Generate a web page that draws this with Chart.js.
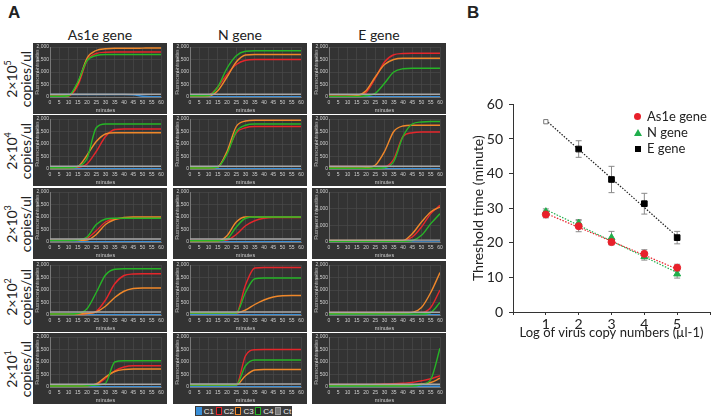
<!DOCTYPE html>
<html>
<head>
<meta charset="utf-8">
<script src="https://cdn.jsdelivr.net/npm/chart.js@4.4.1/dist/chart.umd.min.js"></script>
<style>
  html, body { margin: 0; padding: 0; background: #fff; }
  body { width: 715px; height: 420px; position: relative; overflow: hidden; font-family: Lato, "Open Sans", sans-serif; color: #222; }
  .abs { position: absolute; }
  .panel-label { font-weight: bold; font-size: 17px; font-family: "Liberation Sans", Arial, sans-serif; }
  .col-title { font-size: 14px; text-align: center; width: 134px; top: 26px; }
  .row-title { width: 72px; height: 28px; text-align: center; font-size: 14px; line-height: 14px; white-space: nowrap; transform: rotate(-90deg); transform-origin: center center; }
  .row-title sup { font-size: 9px; line-height: 0; }
  canvas.mini { position: absolute; background: #333; }
  #qlegend { left: 195px; top: 406px; width: 97px; height: 10px; background: #3b3b3b; display: flex; align-items: center; justify-content: space-around; font: 8px "Liberation Sans", Arial, sans-serif; color: #eee; }
  #qlegend span.box { display: inline-block; width: 4px; height: 6px; border: 1.5px solid; margin-right: 2px; vertical-align: middle; background: #222; }
  #blegend { left: 632px; top: 108px; font-size: 13px; line-height: 16px; }
  #blegend div { position: relative; padding-left: 15px; }
  #blegend i { position: absolute; left: 2px; top: 5px; }
</style>
</head>
<body>
<div class="abs panel-label" style="left:8px; top:3px;">A</div>
<div class="abs panel-label" style="left:467px; top:3px;">B</div>

<div class="abs col-title" style="left:33px;">As1e gene</div>
<div class="abs col-title" style="left:173px;">N gene</div>
<div class="abs col-title" style="left:312px;">E gene</div>

<div id="rowTitles"></div>
<div id="minis"></div>

<div id="qlegend" class="abs">
  <span><span class="box" style="border-color:#3a8fd8;background:#3a8fd8"></span>C1</span>
  <span><span class="box" style="border-color:#e5262b"></span>C2</span>
  <span><span class="box" style="border-color:#f0882a"></span>C3</span>
  <span><span class="box" style="border-color:#26b526"></span>C4</span>
  <span><span class="box" style="border-color:#9a9a9a;background:#777"></span>Ct</span>
</div>

<canvas id="chartB" class="abs" width="250" height="255" style="left:465px; top:90px;"></canvas>
<div id="blegend" class="abs">
  <div><i style="width:7px;height:7px;border-radius:50%;background:#e8202a;"></i>As1e gene</div>
  <div><i style="width:0;height:0;border-left:4px solid transparent;border-right:4px solid transparent;border-bottom:7px solid #1fae4b;"></i>N gene</div>
  <div><i style="width:6px;height:6px;background:#000;top:6px;left:3px;"></i>E gene</div>
</div>

<script>
// ---- panel A: amplification curves (minutes vs fluorescence) ----
const MINUTES = [0, 5, 10, 15, 20, 25, 30, 35, 40, 45, 50, 55, 60];
const CURVE_NAMES = ['C1', 'C2', 'C3', 'C4', 'Ct'];
const CURVE_COLORS = ['#3a8fd8', '#e5262b', '#f0882a', '#26b526', '#a8a8a8'];
const ROW_LABELS = ['5', '4', '3', '2', '1'];

// each chart: [C1, C2, C3, C4, Ct]
const AS1E_R1 = [
  [100, 100, 100, 100, 100, 100, 100, 100, 100, 90, 30, 10, 10],
  [30, 30, 40, 450, 1450, 1740, 1790, 1800, 1800, 1800, 1800, 1800, 1800],
  [30, 30, 50, 550, 1550, 1860, 1930, 1950, 1950, 1950, 1955, 1960, 1960],
  [30, 30, 50, 600, 1450, 1660, 1700, 1700, 1700, 1700, 1700, 1700, 1700],
  [110, 110, 110, 110, 110, 110, 110, 110, 110, 110, 110, 110, 110],
];
const AS1E_R2 = [
  [10, 10, 10, 10, 10, 10, 10, 10, 10, 10, 10, 10, 10],
  [60, 60, 60, 70, 200, 700, 1300, 1580, 1600, 1600, 1600, 1600, 1600],
  [50, 50, 50, 100, 550, 1100, 1400, 1450, 1450, 1450, 1450, 1450, 1450],
  [50, 50, 50, 100, 420, 1650, 1800, 1800, 1800, 1800, 1800, 1800, 1800],
  [110, 110, 110, 110, 110, 110, 110, 110, 110, 110, 110, 110, 110],
];
const AS1E_R3 = [
  [10, 10, 10, 10, 10, 10, 10, 10, 10, 10, 10, 10, 10],
  [60, 60, 60, 60, 150, 450, 800, 930, 950, 950, 950, 950, 950],
  [60, 60, 60, 70, 80, 300, 700, 900, 980, 1000, 1000, 1000, 1000],
  [60, 60, 60, 80, 200, 700, 920, 950, 950, 950, 950, 950, 950],
  [120, 120, 120, 120, 120, 120, 120, 120, 120, 120, 120, 120, 120],
];
const AS1E_R4 = [
  [10, 10, 10, 10, 10, 10, 10, 10, 10, 10, 10, 10, 10],
  [40, 40, 40, 40, 60, 150, 600, 1250, 1580, 1640, 1650, 1650, 1650],
  [40, 40, 40, 40, 60, 120, 350, 700, 950, 1060, 1080, 1080, 1080],
  [40, 40, 40, 60, 250, 900, 1600, 1830, 1850, 1850, 1850, 1850, 1850],
  [120, 120, 120, 120, 120, 120, 120, 120, 120, 120, 120, 120, 120],
];
const AS1E_R5 = [
  [10, 10, 10, 10, 10, 10, 10, 10, 10, 10, 10, 10, 10],
  [40, 40, 40, 40, 50, 100, 350, 650, 800, 850, 850, 850, 850],
  [40, 40, 40, 40, 50, 120, 400, 620, 700, 720, 720, 720, 720],
  [40, 40, 40, 40, 50, 80, 150, 1000, 1050, 1050, 1050, 1050, 1050],
  [110, 110, 110, 110, 110, 110, 110, 110, 110, 110, 110, 110, 110],
];

const N_R1 = [
  [10, 10, 10, 10, 10, 10, 10, 10, 10, 10, 10, 10, 10],
  [60, 60, 80, 400, 900, 1300, 1470, 1500, 1500, 1500, 1500, 1500, 1500],
  [40, 40, 40, 250, 800, 1400, 1680, 1700, 1700, 1700, 1700, 1700, 1700],
  [50, 50, 60, 400, 1150, 1650, 1830, 1850, 1850, 1850, 1850, 1850, 1850],
  [110, 110, 110, 110, 110, 110, 110, 110, 110, 110, 110, 110, 110],
];
const N_R2 = [
  [10, 10, 10, 10, 10, 10, 10, 10, 10, 10, 10, 10, 10],
  [40, 40, 40, 80, 650, 1450, 1650, 1700, 1700, 1700, 1700, 1700, 1700],
  [40, 40, 40, 80, 700, 1700, 1920, 1950, 1950, 1950, 1950, 1950, 1950],
  [40, 40, 40, 80, 600, 1500, 1750, 1800, 1800, 1800, 1800, 1800, 1800],
  [110, 110, 110, 110, 110, 110, 110, 110, 110, 110, 110, 110, 110],
];
const N_R3 = [
  [10, 10, 10, 10, 10, 10, 10, 10, 10, 10, 10, 10, 10],
  [60, 60, 60, 60, 80, 300, 650, 850, 950, 980, 980, 980, 980],
  [40, 40, 40, 40, 250, 800, 1000, 1000, 1000, 1000, 1000, 1000, 1000],
  [50, 50, 50, 50, 120, 600, 950, 1000, 1000, 1000, 1000, 1000, 1000],
  [120, 120, 120, 120, 120, 120, 120, 120, 120, 120, 120, 120, 120],
];
const N_R4 = [
  [10, 10, 10, 10, 10, 10, 10, 10, 10, 10, 10, 10, 10],
  [80, 80, 80, 80, 80, 80, 1200, 1880, 1900, 1900, 1900, 1900, 1900],
  [80, 80, 80, 80, 80, 80, 200, 420, 600, 720, 770, 780, 780],
  [80, 80, 80, 80, 80, 80, 900, 1450, 1480, 1480, 1480, 1480, 1480],
  [120, 120, 120, 120, 120, 120, 120, 120, 120, 120, 120, 120, 120],
];
const N_R5 = [
  [10, 10, 10, 10, 10, 10, 10, 10, 10, 10, 10, 10, 10],
  [80, 80, 80, 80, 80, 80, 1250, 1490, 1500, 1500, 1500, 1500, 1500],
  [80, 80, 80, 80, 80, 80, 450, 680, 700, 700, 700, 700, 700],
  [80, 80, 80, 80, 80, 80, 850, 1080, 1080, 1080, 1080, 1080, 1080],
  [120, 120, 120, 120, 120, 120, 120, 120, 120, 120, 120, 120, 120],
];

const E_R1 = [
  [10, 10, 10, 10, 10, 10, 10, 10, 10, 10, 10, 10, 10],
  [30, 30, 30, 40, 180, 750, 1400, 1690, 1740, 1750, 1750, 1750, 1750],
  [30, 30, 30, 50, 250, 800, 1300, 1500, 1550, 1550, 1550, 1550, 1550],
  [20, 20, 20, 20, 50, 150, 550, 1000, 1130, 1150, 1150, 1150, 1150],
  [110, 110, 110, 110, 110, 110, 110, 110, 110, 110, 110, 110, 110],
];
const E_R2 = [
  [10, 10, 10, 10, 10, 10, 10, 10, 10, 10, 10, 10, 10],
  [100, 100, 100, 100, 100, 100, 100, 400, 1300, 1450, 1480, 1480, 1480],
  [40, 40, 40, 40, 50, 150, 700, 1500, 1720, 1750, 1750, 1750, 1750],
  [30, 30, 30, 30, 30, 30, 50, 300, 1300, 1800, 1880, 1900, 1900],
  [110, 110, 110, 110, 110, 110, 110, 110, 110, 110, 110, 110, 110],
];
const E_R3 = [
  [10, 10, 10, 10, 10, 10, 10, 10, 10, 10, 10, 10, 10],
  [60, 60, 60, 60, 60, 60, 60, 60, 80, 300, 900, 1700, 2200],
  [100, 100, 100, 100, 100, 100, 100, 100, 100, 500, 1200, 1800, 2100],
  [40, 40, 40, 40, 40, 40, 40, 40, 40, 80, 400, 1100, 1700],
  [110, 110, 110, 110, 110, 110, 110, 110, 110, 110, 110, 110, 110],
];
const E_R4 = [
  [10, 10, 10, 10, 10, 10, 10, 10, 10, 10, 10, 10, 10],
  [100, 100, 100, 100, 100, 100, 100, 100, 100, 100, 100, 300, 1000],
  [60, 60, 60, 60, 60, 60, 60, 60, 60, 100, 300, 900, 1700],
  [40, 40, 40, 40, 40, 40, 40, 40, 40, 40, 40, 100, 500],
  [110, 110, 110, 110, 110, 110, 110, 110, 110, 110, 110, 110, 110],
];
const E_R5 = [
  [30, 30, 30, 30, 30, 30, 30, 30, 30, 30, 30, 30, 30],
  [100, 100, 100, 100, 100, 110, 120, 130, 150, 180, 250, 330, 450],
  [60, 60, 60, 60, 60, 60, 60, 60, 60, 80, 120, 180, 350],
  [40, 40, 40, 40, 40, 40, 40, 40, 40, 40, 100, 300, 1550],
  [110, 110, 110, 110, 110, 110, 110, 110, 110, 110, 110, 110, 110],
];

// rows x columns, with y max per chart
const GRID = [
  [AS1E_R1, N_R1, E_R1],
  [AS1E_R2, N_R2, E_R2],
  [AS1E_R3, N_R3, E_R3],
  [AS1E_R4, N_R4, E_R4],
  [AS1E_R5, N_R5, E_R5],
];
const Y_MAX = [
  [2000, 2000, 2000],
  [2000, 2000, 2000],
  [2000, 2000, 3000],
  [2000, 2000, 2000],
  [2000, 2000, 2000],
];

// ---- panel B: threshold time vs log copy number ----
const LOG_COPIES = [1, 2, 3, 4, 5];
const AS1E_TT = [28.2, 24.8, 20.2, 16.8, 12.8];
const AS1E_SD = [1.0, 1.6, 0.8, 1.2, 1.0];
const N_TT = [29.0, 25.7, 21.5, 16.0, 11.0];
const N_SD = [0.8, 1.0, 1.8, 1.0, 1.2];
const E_TT = [55.0, 47.1, 38.3, 31.3, 21.5];
const E_SD = [0, 2.4, 3.8, 3.0, 1.8];
// dotted fit lines, read at x = 1 and x = 5
const FIT_X = [1, 5];
const AS1E_FIT = [28.5, 12.4];
const N_FIT = [29.6, 11.4];
const E_FIT = [55.4, 21.8];

const COL_LEFT = [33, 173, 312];
const ROW_TOP = [43, 115, 188, 261, 333];
const MINI_W = 134;
const MINI_H = 71;
const MINI_FONT = '"Liberation Sans", Arial, sans-serif';

function addRowTitles() {
  const host = document.getElementById('rowTitles');
  ROW_LABELS.forEach((exp, r) => {
    const el = document.createElement('div');
    el.className = 'abs row-title';
    el.style.left = (19 - 36) + 'px';
    el.style.top = (ROW_TOP[r] + MINI_H / 2 - 14) + 'px';
    el.innerHTML = `2×10<sup>${exp}</sup><br>copies/ul`;
    host.appendChild(el);
  });
}

function createMiniChart(series, yMax, left, top) {
  const canvas = document.createElement('canvas');
  canvas.className = 'mini';
  canvas.width = MINI_W;
  canvas.height = MINI_H;
  canvas.style.left = left + 'px';
  canvas.style.top = top + 'px';
  document.getElementById('minis').appendChild(canvas);

  const labelStep = yMax > 2000 ? 1000 : 500;
  new Chart(canvas.getContext('2d'), {
    type: 'line',
    data: {
      datasets: series.map((vals, i) => ({
        label: CURVE_NAMES[i],
        data: vals.map((v, k) => ({ x: MINUTES[k], y: v })),
        borderColor: CURVE_COLORS[i],
        borderWidth: 1.4,
        pointRadius: 0,
        cubicInterpolationMode: 'monotone',
        fill: false,
      })).reverse(),
    },
    options: {
      responsive: false,
      animation: false,
      events: [],
      layout: { padding: { top: 4, right: 6, bottom: 0, left: 2 } },
      plugins: { legend: { display: false }, tooltip: { enabled: false } },
      scales: {
        x: {
          type: 'linear',
          min: 0,
          max: 60,
          ticks: { stepSize: 5, autoSkip: false, maxRotation: 0, color: '#cfcfcf', font: { size: 5, family: MINI_FONT }, padding: 3 },
          grid: { color: '#4c4c4c', lineWidth: 0.6, drawTicks: false },
          border: { color: '#777' },
          title: { display: true, text: 'minutes', color: '#cfcfcf', font: { size: 5.5, family: MINI_FONT }, padding: 0 },
          afterFit(s) { s.height = 17; },
        },
        y: {
          min: 0,
          max: yMax,
          ticks: {
            stepSize: labelStep / 2,
            color: '#cfcfcf',
            font: { size: 5, family: MINI_FONT },
            padding: 1,
            callback: (v) => (v % labelStep === 0 ? v.toLocaleString('en-US') : ''),
          },
          grid: { color: '#4c4c4c', lineWidth: 0.6, drawTicks: false },
          border: { color: '#777' },
          title: { display: true, text: 'Fluorescent intensities', color: '#bdbdbd', font: { size: 4.5, family: MINI_FONT }, padding: 0 },
          afterFit(s) { s.width = 15; },
        },
      },
    },
  });
}

const errorBars = {
  id: 'errorBars',
  beforeDatasetsDraw(chart) {
    const { ctx, scales: { x, y } } = chart;
    ctx.save();
    ctx.strokeStyle = '#8a8a8a';
    ctx.lineWidth = 1;
    chart.data.datasets.forEach((ds) => {
      if (!ds.errors) return;
      ds.data.forEach((p, j) => {
        const e = ds.errors[j];
        if (!e) return;
        const px = x.getPixelForValue(p.x);
        const top = y.getPixelForValue(p.y + e);
        const bot = y.getPixelForValue(p.y - e);
        ctx.beginPath();
        ctx.moveTo(px, top); ctx.lineTo(px, bot);
        ctx.moveTo(px - 3, top); ctx.lineTo(px + 3, top);
        ctx.moveTo(px - 3, bot); ctx.lineTo(px + 3, bot);
        ctx.stroke();
      });
    });
    ctx.restore();
  },
};

function toPoints(xs, ys) {
  return xs.map((x, i) => ({ x, y: ys[i] }));
}

function createThresholdChart() {
  const canvas = document.getElementById('chartB');
  const font = { family: 'Lato, "Open Sans", sans-serif', size: 14 };
  const fitLine = (ys, color) => ({
    type: 'line',
    data: toPoints(FIT_X, ys),
    borderColor: color,
    borderWidth: 1.2,
    borderDash: [1.5, 1.5],
    pointRadius: 0,
    order: 3,
  });

  new Chart(canvas.getContext('2d'), {
    type: 'scatter',
    data: {
      datasets: [
        fitLine(E_FIT, '#222'),
        fitLine(AS1E_FIT, '#e8202a'),
        fitLine(N_FIT, '#1fae4b'),
        {
          label: 'E gene',
          data: toPoints(LOG_COPIES, E_TT),
          errors: E_SD,
          pointStyle: 'rect',
          pointRadius: [3, 4, 4, 4, 4],
          pointBackgroundColor: ['#fff', '#000', '#000', '#000', '#000'],
          pointBorderColor: ['#777', '#000', '#000', '#000', '#000'],
          pointBorderWidth: 1,
          order: 1,
        },
        {
          label: 'As1e gene',
          data: toPoints(LOG_COPIES, AS1E_TT),
          errors: AS1E_SD,
          pointStyle: 'circle',
          pointRadius: 3.5,
          pointBackgroundColor: '#e8202a',
          pointBorderColor: '#e8202a',
          order: 1,
        },
        {
          label: 'N gene',
          data: toPoints(LOG_COPIES, N_TT),
          errors: N_SD,
          pointStyle: 'triangle',
          pointRadius: 4,
          pointBackgroundColor: '#1fae4b',
          pointBorderColor: '#1fae4b',
          order: 1,
        },
      ],
    },
    options: {
      responsive: false,
      animation: false,
      events: [],
      layout: { padding: { top: 14, right: 4, bottom: 0, left: 0 } },
      plugins: { legend: { display: false }, tooltip: { enabled: false } },
      scales: {
        x: {
          type: 'linear',
          min: 0,
          max: 6,
          ticks: { stepSize: 1, color: '#222', font, padding: 1, callback: (v) => (v >= 1 && v <= 5 ? v : '') },
          grid: { drawOnChartArea: false, color: '#333', tickLength: 3 },
          border: { color: '#333' },
          title: { display: true, text: 'Log of virus copy numbers (µl-1)', color: '#222', font: { family: font.family, size: 13 }, padding: { top: 0, bottom: 4 } },
          afterFit(s) { s.height = 33; },
        },
        y: {
          min: 0,
          max: 60,
          ticks: { stepSize: 10, color: '#222', font, padding: 6 },
          grid: { drawOnChartArea: false, color: '#333', tickLength: 4 },
          border: { color: '#333' },
          title: { display: true, text: 'Threshold time (minute)', color: '#222', font, padding: { top: 5, bottom: 0 } },
          afterFit(s) { s.width = 48; },
        },
      },
    },
    plugins: [errorBars],
  });
}

addRowTitles();
GRID.forEach((row, r) => {
  row.forEach((series, c) => {
    createMiniChart(series, Y_MAX[r][c], COL_LEFT[c], ROW_TOP[r]);
  });
});
createThresholdChart();
</script>
</body>
</html>
